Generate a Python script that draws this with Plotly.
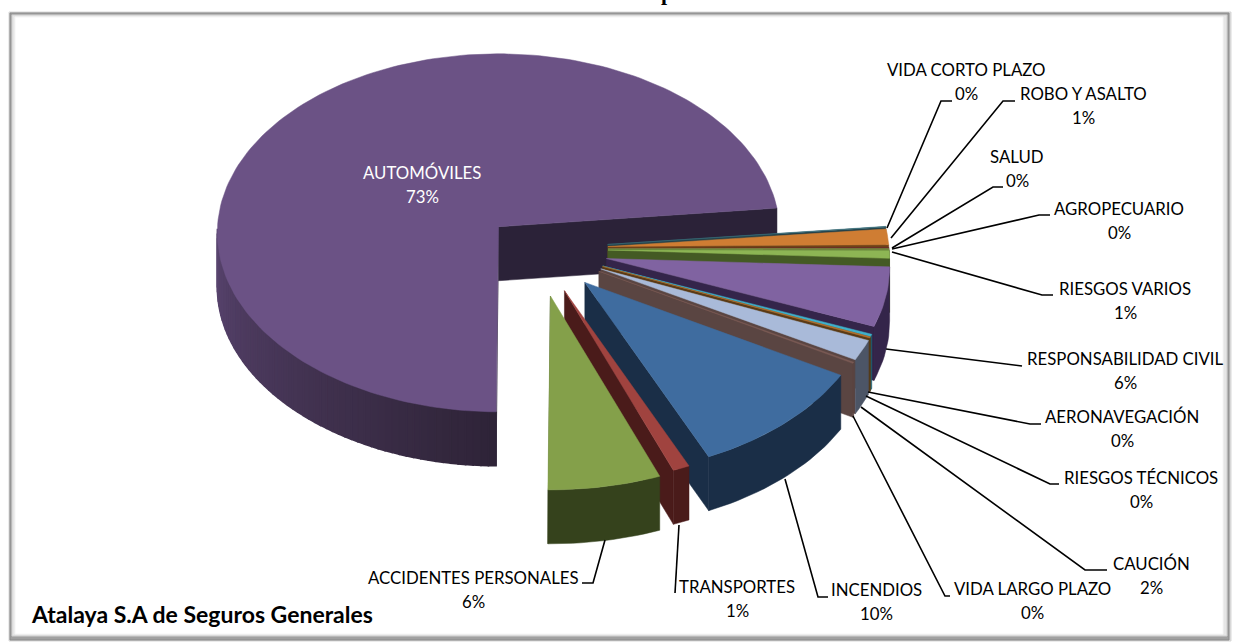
import math
import plotly.graph_objects as go

# ---- data (share of premium, %)
categories = ["VIDA CORTO PLAZO", "ROBO Y ASALTO", "SALUD", "AGROPECUARIO", "RIESGOS VARIOS",
              "RESPONSABILIDAD CIVIL", "AERONAVEGACIÓN", "RIESGOS TÉCNICOS", "CAUCIÓN",
              "VIDA LARGO PLAZO", "INCENDIOS", "TRANSPORTES", "ACCIDENTES PERSONALES", "AUTOMÓVILES"]
values = [0.1, 1.4, 0.1, 0.1, 0.7, 5.3, 0.2, 0.1, 1.8, 0.1, 10.0, 0.9, 6.0, 73.2]
percent_labels = ["0%", "1%", "0%", "0%", "1%", "6%", "0%", "0%", "2%", "0%", "10%", "1%", "6%", "73%"]

# ---- styles
top_colors = ["#3a6f7a", "#cf7d33", "#6e2f2a", "#8db554", "#8db554", "#8063a1", "#3fb0ca", "#b5702c",
              "#a9bad9", "#7a5a55", "#3f6c9f", "#a0433f", "#84a04a", "#6b5285"]
wall_colors = ["#25424a", "#6e4218", "#4a1b1a", "#445a24", "#445a24", "#34254a", "#1f6070", "#5a3a15",
               "#4c5566", "#5a4542", "#1a2e47", "#4a1b1a", "#35421c", "#3c2f52"]
edge_colors = ["#25424a", "#6e4218", "#4a1b1a", "#445a24", "#445a24", "#34254a", "#1f6070", "#5a3a15",
               "#5a4542", "#5a4542", "#1a2e47", "#4a1b1a", "#35421c", "#2b2238"]
pulls = [71] * 12 + [75, 52]

# ---- projection
CX, CY, R, TILT, DEPTH = 537, 249, 281, 0.637, 54
START = 84.0


def proj(ax, ay, r, th, persp, extra):
    t = math.radians(th)
    u, v = r * math.cos(t), r * math.sin(t)
    s = 1 - persp * (u + extra) / R
    return ax + v * s, ay - TILT * u * s


def poly(xs, ys, color, name, lw=0.5):
    return go.Scatter(x=xs, y=ys, mode="lines", fill="toself", fillcolor=color,
                      line=dict(color=color, width=lw), name=name, hoverinfo="name", showlegend=False)


def lerp_hex(c1, c2, f):
    a = [int(c1[i:i + 2], 16) for i in (1, 3, 5)]
    b = [int(c2[i:i + 2], 16) for i in (1, 3, 5)]
    return "#%02x%02x%02x" % tuple(int(p + (q - p) * f) for p, q in zip(a, b))


total = sum(values)
angles = []
a = START
for val in values:
    angles.append((a, a + val / total * 360))
    a += val / total * 360

fig = go.Figure()
order = [13] + list(range(13))
for i in order:
    a0, a1 = angles[i]
    mid = math.radians((a0 + a1) / 2)
    ax = CX + pulls[i] * math.sin(mid)
    ay = CY - TILT * pulls[i] * math.cos(mid)
    pu = pulls[i] * math.cos(mid)
    persp = 0.034 if i == 13 else 0.05
    extra = 2.5 * pu if pu < 0 else 0
    n = max(2, int((a1 - a0) / 1.5))
    ths = [a0 + (a1 - a0) * k / n for k in range(n + 1)]
    name = categories[i]
    # radial walls
    edges = [a1] if i != 13 else [a0, a1]
    for e in edges:
        x1, y1 = proj(ax, ay, R, e, persp, extra)
        fig.add_trace(poly([ax, x1, x1, ax, ax], [ay, y1, y1 + DEPTH, ay + DEPTH, ay], edge_colors[i], name))
    # outer wall in front half
    front = [t for t in ths if 90 <= (t % 360) <= 270]
    if len(front) >= 2:
        if i == 13:
            for t0, t1 in zip(front[:-1], front[1:]):
                c = lerp_hex("#2f2438", "#5a4570", max(0, (t0 % 360) - 180) / 90)
                p0, p1 = proj(ax, ay, R, t0, persp, extra), proj(ax, ay, R, t1, persp, extra)
                fig.add_trace(poly([p0[0], p1[0], p1[0], p0[0], p0[0]],
                                   [p0[1], p1[1], p1[1] + DEPTH, p0[1] + DEPTH, p0[1]], c, name, 1.6))
        else:
            pts = [proj(ax, ay, R, t, persp, extra) for t in front]
            xs = [p[0] for p in pts] + [p[0] for p in reversed(pts)] + [pts[0][0]]
            ys = [p[1] for p in pts] + [p[1] + DEPTH for p in reversed(pts)] + [pts[0][1]]
            fig.add_trace(poly(xs, ys, wall_colors[i], name))
    # top surface
    pts = [proj(ax, ay, R, t, persp, extra) for t in ths]
    fig.add_trace(poly([ax] + [p[0] for p in pts] + [ax], [ay] + [p[1] for p in pts] + [ay], top_colors[i], name))

# ---- label layout: centre x, first-line y, leader path
label_pos = {
    "VIDA CORTO PLAZO": (966, 69, [(887, 228), (941, 101), (952, 101)]),
    "ROBO Y ASALTO": (1083, 93, [(891, 238), (1003, 101), (1015, 101)]),
    "SALUD": (1017, 156, [(892, 248), (993, 187), (1003, 187)]),
    "AGROPECUARIO": (1119, 208, [(892, 249), (1039, 215), (1050, 215)]),
    "RIESGOS VARIOS": (1125, 288, [(892, 252), (1042, 295), (1053, 295)]),
    "RESPONSABILIDAD CIVIL": (1125, 358, [(886, 349), (1022, 366)]),
    "AERONAVEGACIÓN": (1122, 416, [(868, 392), (1030, 424), (1041, 424)]),
    "RIESGOS TÉCNICOS": (1141, 477, [(866, 396), (1050, 484), (1059, 484)]),
    "CAUCIÓN": (1151, 563, [(861, 407), (1085, 570), (1107, 570)]),
    "VIDA LARGO PLAZO": (1032, 588, [(853, 416), (945, 596), (950, 596)]),
    "INCENDIOS": (876, 589, [(785, 479), (818, 597), (828, 597)]),
    "TRANSPORTES": (737, 586, [(679, 525), (675, 593)]),
    "ACCIDENTES PERSONALES": (473, 577, [(605, 540), (593, 583), (582, 583)]),
    "AUTOMÓVILES": (422, 172, []),
}
FONT = "Lato"
annots = []
shapes = []
# frame
frame = [
    (9, 12, 1231, 641, "#d8d8d8", "#d8d8d8"),
    (10, 13, 1229, 640, "#8a8a8a", "#a0a0a0"),
    (12, 15, 1227, 636, "#cfcfcf", "#e6e6e6"),
    (15, 17, 1223, 634, "#f6f6f6", "#ffffff"),
]
for x0, y0, x1, y1, lc, fc in frame:
    shapes.append(dict(type="rect", xref="x", yref="y", x0=x0, y0=y0, x1=x1, y1=y1, layer="below",
                       line=dict(color=lc, width=1), fillcolor=fc))
for c, p in zip(categories, percent_labels):
    cx, y, path = label_pos[c]
    col = "#ffffff" if c == "AUTOMÓVILES" else "#000000"
    annots.append(dict(x=cx, y=y, text=c, showarrow=False, font=dict(family=FONT, size=16.8, color=col)))
    annots.append(dict(x=cx, y=y + 24, text=p, showarrow=False, font=dict(family=FONT, size=16.8, color=col)))
    if path:
        d = "M " + " L ".join(f"{x},{yy}" for x, yy in path)
        shapes.append(dict(type="path", xref="x", yref="y", path=d, line=dict(color="#000000", width=1.6)))

annots.append(dict(x=29, y=614, xanchor="left", text="<b>Atalaya S.A de Seguros Generales</b>", showarrow=False,
                   font=dict(family=FONT, size=23, color="#000000")))
annots.append(dict(x=667, y=0, yshift=8, text="<b>p</b>", showarrow=False,
                   font=dict(family="Liberation Serif", size=22, color="#000000")))

fig.update_layout(width=1236, height=644, margin=dict(l=0, r=0, t=0, b=0), paper_bgcolor="#ffffff",
                  plot_bgcolor="rgba(0,0,0,0)", showlegend=False, annotations=annots, shapes=shapes,
                  xaxis=dict(range=[0, 1236], visible=False, fixedrange=True),
                  yaxis=dict(range=[644, 0], visible=False, fixedrange=True))
fig.write_html("out.html", config=dict(displayModeBar=False),
               post_script="document.body.style.margin='0';document.body.style.overflow='hidden';")
